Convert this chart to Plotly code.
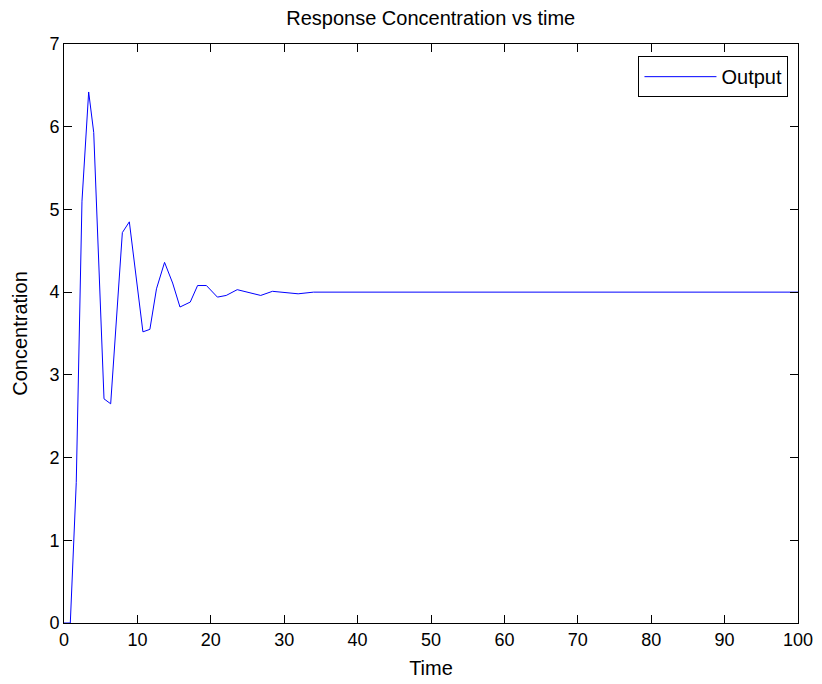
import plotly.graph_objects as go

time = [0, 0.86, 1.67, 2.45, 3.36, 4.05, 5.45, 6.36, 7.95, 8.9, 10.75, 11.7, 12.6,
        13.7, 14.8, 15.8, 17.2, 18.2, 19.4, 20.9, 22.1, 23.6, 26.8, 28.4, 31.9,
        34.0, 100]
conc = [0, 0, 1.7, 5.1, 6.42, 5.93, 2.71, 2.65, 4.72, 4.85, 3.52, 3.55, 4.04,
        4.36, 4.11, 3.82, 3.88, 4.08, 4.08, 3.94, 3.96, 4.03, 3.96, 4.01, 3.98,
        4.00, 4.00]

xticks = list(range(0, 101, 10))
yticks = list(range(0, 8))

fig = go.Figure()
fig.add_trace(go.Scatter(x=time, y=conc, mode="lines", name="Output",
                         line=dict(color="#0000ff", width=1)))

font = "Liberation Sans, Arial, sans-serif"
axis_common = dict(showline=True, linecolor="black", linewidth=1, mirror="ticks",
                   ticks="inside", ticklen=8, tickcolor="black", tickwidth=1,
                   showgrid=False, zeroline=False, automargin=False,
                   tickfont=dict(family=font, size=18, color="black"))

fig.update_layout(
    width=822, height=684,
    margin=dict(l=64, r=24, t=44, b=61),
    paper_bgcolor="white", plot_bgcolor="white",
    title=dict(text="Response Concentration vs time", x=0.524, xanchor="center",
               y=0.973, yanchor="middle",
               font=dict(family=font, size=20, color="black")),
    xaxis=dict(range=[0, 100], tickvals=xticks,
               title=dict(text="Time", font=dict(family=font, size=20, color="black"),
                          standoff=12),
               **axis_common),
    yaxis=dict(range=[0, 7], tickvals=yticks,
               title=dict(text="Concentration", font=dict(family=font, size=20, color="black"),
                          standoff=16),
               **axis_common),
    showlegend=True,
    legend=dict(x=0.987, y=0.979, xanchor="right", yanchor="top",
                bordercolor="black", borderwidth=1, bgcolor="white",
                itemwidth=72,
                font=dict(family=font, size=20, color="black")),
)

fig.write_html("out.html")
